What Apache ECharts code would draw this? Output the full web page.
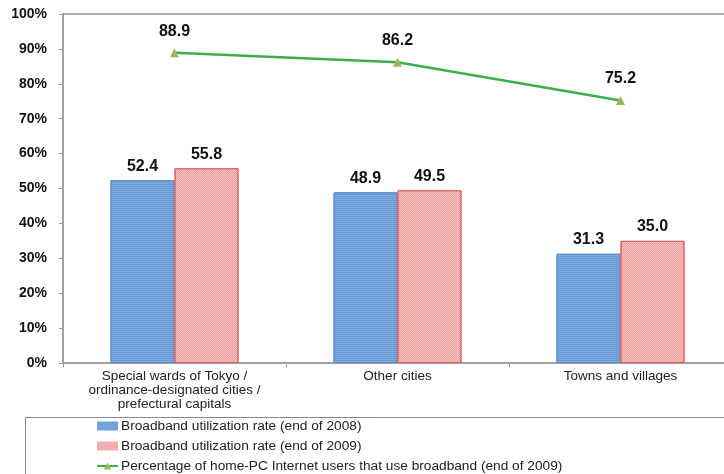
<!DOCTYPE html>
<html>
<head>
<meta charset="utf-8">
<script src="https://cdn.jsdelivr.net/npm/echarts@6/dist/echarts.min.js"></script>
<style>
  html, body { margin: 0; padding: 0; background: #fff; }
  #chart { width: 724px; height: 474px; }
</style>
</head>
<body>
<div id="chart"></div>
<script>
// Broadband utilization by municipality type
const categories = [
  'Special wards of Tokyo /\nordinance-designated cities /\nprefectural capitals',
  'Other cities',
  'Towns and villages'
];
const seriesNames = [
  'Broadband utilization rate (end of 2008)',
  'Broadband utilization rate (end of 2009)',
  'Percentage of home-PC Internet users that use broadband (end of 2009)'
];
const rate2008 = [52.4, 48.9, 31.3];
const rate2009 = [55.8, 49.5, 35.0];
const homePcShare2009 = [88.9, 86.2, 75.2];

const FONT = '"Liberation Sans", Arial, sans-serif';

const valueLabel = {
  show: true,
  position: 'top',
  fontFamily: FONT,
  fontWeight: 'bold',
  fontSize: 16,
  color: '#111',
  formatter: p => p.value.toFixed(1)
};

const chart = echarts.init(document.getElementById('chart'), null, { renderer: 'canvas' });
chart.setOption({
  animation: false,
  backgroundColor: '#fff',
  textStyle: { fontFamily: FONT },
  grid: {
    left: 63, top: 14, width: 669, height: 349,
    outerBoundsMode: 'none',
    show: true, borderColor: '#999', borderWidth: 1.5, backgroundColor: 'transparent'
  },
  graphic: [{
    type: 'rect',
    left: 23, top: 415,
    shape: { width: 700, height: 57 },
    style: { fill: 'none', stroke: '#8a8a8a', lineWidth: 1 },
    z: 0
  }],
  legend: {
    orient: 'vertical',
    left: 96, top: 419,
    height: 80,
    padding: 0,
    itemWidth: 21, itemHeight: 9,
    itemGap: 6,
    textStyle: { fontFamily: FONT, fontSize: 13.7, color: '#222', padding: [0, 0, 0, -2] },
    data: [
      { name: seriesNames[0], icon: 'rect', itemStyle: { borderWidth: 0 } },
      { name: seriesNames[1], icon: 'rect', itemStyle: { borderWidth: 0 } },
      { name: seriesNames[2] }
    ]
  },
  xAxis: {
    type: 'category',
    data: categories,
    axisLine: { lineStyle: { color: '#999', width: 1.5 } },
    axisTick: { show: true, length: 4, lineStyle: { color: '#999' } },
    axisLabel: {
      interval: 0, margin: 6,
      fontFamily: FONT, fontSize: 13.5, lineHeight: 14, color: '#222'
    },
    splitLine: { show: false }
  },
  yAxis: {
    type: 'value',
    min: 0, max: 100, interval: 10,
    axisLine: { show: true, lineStyle: { color: '#999', width: 1.5 } },
    axisTick: { show: true, length: 4, lineStyle: { color: '#999' } },
    axisLabel: {
      formatter: '{value}%', margin: 16,
      fontFamily: FONT, fontWeight: 'bold', fontSize: 14, color: '#111'
    },
    splitLine: { show: false }
  },
  series: [
    {
      name: seriesNames[0],
      type: 'bar',
      data: rate2008,
      barWidth: 64,
      barGap: '0%',
      itemStyle: {
        color: '#7eaadf', borderColor: '#5f8fca', borderWidth: 1,
        // fine horizontal stripes
        decal: {
          symbol: 'rect', symbolSize: 1,
          dashArrayX: [1, 0], dashArrayY: [1, 1],
          color: 'rgba(70,125,195,0.35)'
        }
      },
      label: Object.assign({ distance: 6 }, valueLabel)
    },
    {
      name: seriesNames[1],
      type: 'bar',
      data: rate2009,
      barWidth: 64,
      itemStyle: {
        color: '#f7c6c6', borderColor: '#e06262', borderWidth: 1,
        // dotted hatch fill
        decal: {
          symbol: 'rect', symbolSize: 1,
          dashArrayX: [[1, 1], [0, 1, 1, 0]], dashArrayY: [1, 0],
          color: 'rgba(225,100,100,0.45)'
        }
      },
      label: Object.assign({ distance: 6 }, valueLabel)
    },
    {
      name: seriesNames[2],
      type: 'line',
      data: homePcShare2009,
      symbol: 'triangle',
      symbolSize: 9,
      lineStyle: { color: '#3cae4a', width: 2.5 },
      itemStyle: { color: '#9bbb59' },
      label: Object.assign({ distance: 9 }, valueLabel),
      z: 5
    }
  ]
});
</script>
</body>
</html>
